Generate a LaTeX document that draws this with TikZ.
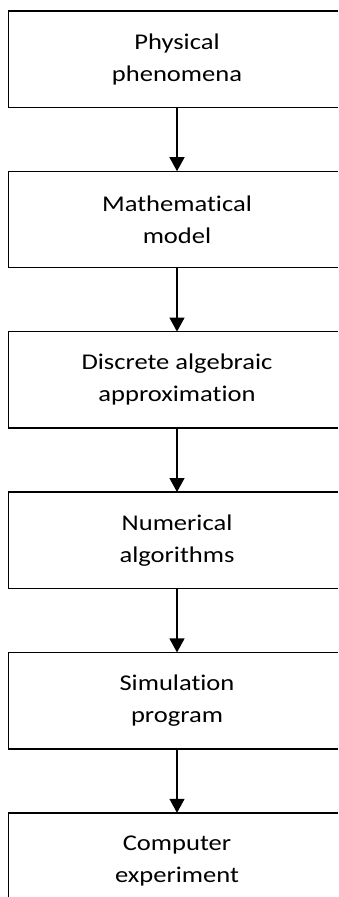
\documentclass[tikz,border=0pt]{standalone}
\usepackage{fontspec}
\setmainfont{Carlito}[FakeStretch=1.18,Ligatures=NoCommon]
\usepackage{tikz}
\usetikzlibrary{
  arrows.meta,
  positioning}

\begin{document}
\begin{tikzpicture}[x=1pt,y=1pt,
    stepbox/.style={line width=1.4pt,minimum width=336pt,minimum height=95pt,
      align=center,font=\fontsize{22.5}{32}\selectfont},
    boxline/.style={line width=1.4pt},
    flow/.style={line width=1.4pt,-{Triangle[width=15pt,length=14pt]}},
    node distance=64pt]
            \useasboundingbox (0,0) rectangle (338,-897);
            \coordinate (rim) at (338,0);
            \node[stepbox] (phys) at (177,-59) {Physical\\phenomena};
            \node[stepbox,below=of phys] (math) {Mathematical\\model};
            \node[stepbox,below=of math] (disc) {Discrete algebraic\\approximation};
            \node[stepbox,below=of disc] (num) {Numerical\\algorithms};
            \node[stepbox,below=of num] (sim) {Simulation\\program};
            \node[stepbox,below=of sim] (comp) {Computer\\experiment};
            % boxes run off the right side of the page
            \foreach \n in {phys,math,disc,num,sim,comp}
              \draw[boxline] (\n.north -| rim) -- (\n.north west) -- (\n.south west) -- (\n.south -| rim);
            \draw[flow] (phys) -- (math);
            \draw[flow] (math) -- (disc);
            \draw[flow] (disc) -- (num);
            \draw[flow] (num) -- (sim);
            \draw[flow] (sim) -- (comp);
        \end{tikzpicture}
\end{document}
